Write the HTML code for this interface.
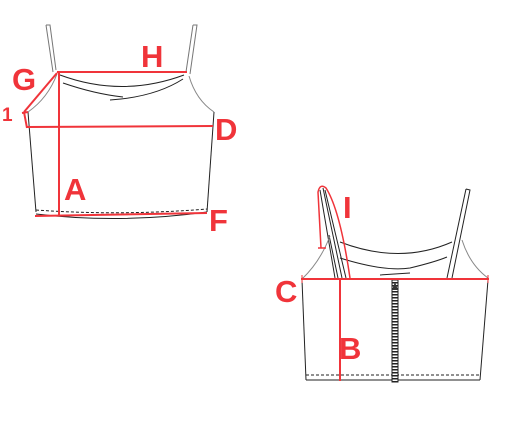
<!DOCTYPE html>
<html><head><meta charset="utf-8"><style>
html,body{margin:0;padding:0;background:#fff;}
svg{display:block;}
text{font-family:"Liberation Sans",Arial,sans-serif;font-weight:bold;fill:#f0343a;}
</style></head><body>
<svg width="520" height="425" viewBox="0 0 520 425">
<g fill="none" stroke="#222" stroke-width="1">
  <path d="M46,25 L50,25 L56,70 M46,25 L53,72" stroke="#777"/>
  <path d="M193,25 L197,25 L190,74 M193,25 L186,72" stroke="#777"/>
  <path d="M57,74 Q48,98 28,112" stroke="#888"/>
  <path d="M189,76 Q196,100 214,112" stroke="#888"/>
  <path d="M28,112 L36,212"/>
  <path d="M214,112 L207,212"/>
  <path d="M36,214 Q120,224 207,212"/>
  <path d="M36,210 Q120,216 207,209" stroke-dasharray="3,2"/>
  <path d="M60,75 Q122,98 184,75"/>
  <path d="M63,83 Q95,94 123,97 M110,100 Q155,97 183,79"/>
</g>
<g fill="none" stroke="#f0343a" stroke-width="2">
  <line x1="57" y1="72" x2="187" y2="72"/>
  <line x1="57" y1="73" x2="24" y2="112"/>
  <path d="M24,112 L27,128 M22,113 L28,112"/>
  <line x1="27" y1="127" x2="213" y2="126"/>
  <line x1="59" y1="73" x2="59" y2="215"/>
  <line x1="35" y1="216" x2="207" y2="213"/>
</g>
<text x="12" y="90" font-size="31">G</text>
<text x="141" y="67" font-size="31">H</text>
<text x="2" y="121" font-size="19">1</text>
<text x="215" y="140" font-size="31">D</text>
<text x="64" y="200" font-size="31">A</text>
<text x="209" y="231" font-size="31">F</text>

<g fill="none" stroke="#222" stroke-width="1">
  <path d="M320,190 L335,278 M323,188 L342,278 M325,190 L346,278 M329,235 L338,278"/>
  <path d="M466,189 L470,190 L452,278 M466,189 L447,278"/>
  <path d="M330,236 Q320,262 302,279" stroke="#888"/>
  <path d="M462,240 Q470,265 488,278" stroke="#888"/>
  <path d="M340,242 Q400,265 452,242"/>
  <path d="M340,258 Q385,272 410,268 Q435,262 447,257 M380,275 L410,273"/>
  <path d="M302,280 L306,380"/>
  <path d="M488,280 L480,380"/>
  <line x1="306" y1="380" x2="480" y2="380"/>
  <line x1="306" y1="375" x2="480" y2="375" stroke-dasharray="3,2"/>
</g>
<g>
  <rect x="392" y="280" width="6" height="102" fill="#fff" stroke="#222" stroke-width="1"/>
  <line x1="395" y1="282" x2="395" y2="382" stroke="#222" stroke-width="5" stroke-dasharray="1.5,1.5"/>
  <path d="M392,290 L395,282 L398,290 Z" fill="#333"/>
</g>
<g fill="none" stroke="#f0343a" stroke-width="2">
  <line x1="301" y1="279" x2="489" y2="279"/>
  <path d="M302,275 L302,283 M488,275 L488,283" stroke-width="1"/>
  <line x1="340" y1="279" x2="340" y2="381"/>
  <path d="M321,248 L318,192 Q320,183 326,188 Q340,210 350,278" stroke-width="1.5"/>
  <path d="M318,248 L326,248" stroke-width="1.5"/>
</g>
<text x="275" y="302" font-size="31">C</text>
<text x="339" y="359" font-size="31">B</text>
<text x="343" y="218" font-size="31">I</text>
</svg>
</body></html>
